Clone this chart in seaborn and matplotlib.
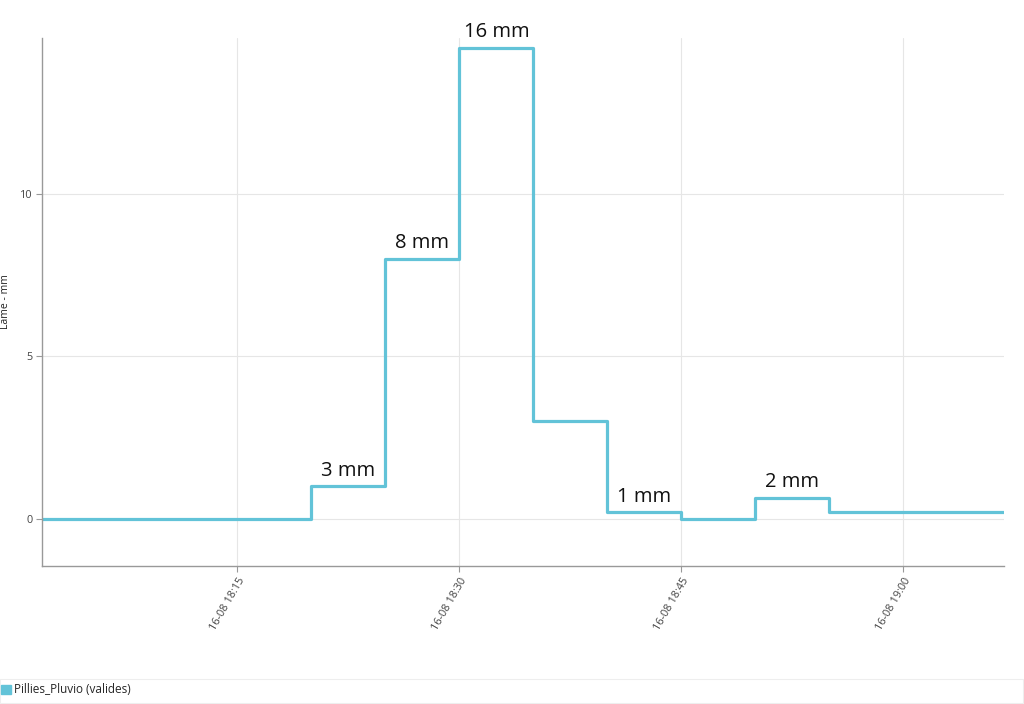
import matplotlib
matplotlib.use("Agg")
import matplotlib.pyplot as plt
import matplotlib.dates as mdates
from matplotlib.patches import Patch, Rectangle
import seaborn as sns
import pandas as pd

# ---- data ----
times = ["18:00", "18:05", "18:10", "18:15", "18:20", "18:25", "18:30", "18:35",
         "18:40", "18:45", "18:50", "18:55", "19:00", "19:05", "19:10"]
values = [0, 0, 0, 0, 1.0, 8.0, 14.5, 3.0, 0.2, 0.0, 0.65, 0.2, 0.2, 0.2, 0.2]
label_times = ["18:20", "18:25", "18:30", "18:40", "18:50"]
label_texts = ["3 mm", "8 mm", "16 mm", "1 mm", "2 mm"]
series_name = "Pillies_Pluvio (valides)"
date = "2023-08-16 "
tick_times = ["18:15", "18:30", "18:45", "19:00"]

df = pd.DataFrame({"t": pd.to_datetime([date + t for t in times]), "v": values})
color = "#62C3D8"

sns.set_theme(style="white")
plt.rcParams['font.family'] = ['Open Sans', 'DejaVu Sans']

fig = plt.figure(figsize=(10.24, 7.04), dpi=100)
ax = fig.add_axes([0.041, 0.196, 0.9395, 0.750])

sns.lineplot(data=df, x="t", y="v", ax=ax, color=color, linewidth=2.3,
             drawstyle="steps-post", legend=False)

x0 = pd.Timestamp(date + "18:01:48")
x1 = pd.Timestamp(date + "19:06:48")
ax.set_xlim(x0, x1)
ax.set_ylim(-1.45, 14.8)

ticks = pd.to_datetime([date + t for t in tick_times])
ax.set_xticks(ticks)
ax.set_xticklabels(["16-08 " + t for t in tick_times], rotation=60, ha="right",
                   rotation_mode="anchor", fontsize=7.8, color="#444444")
ax.set_yticks([0, 5, 10])
ax.set_yticklabels(["0", "5", "10"], fontsize=7.8, color="#444444")
ax.tick_params(axis="both", length=4, width=0.8, color="#999999", direction="out",
               bottom=True, left=True, pad=3)
ax.grid(True, color="#e6e6e6", linewidth=0.8)
ax.set_axisbelow(True)
for s in ["top", "right"]:
    ax.spines[s].set_visible(False)
for s in ["left", "bottom"]:
    ax.spines[s].set_color("#999999")
    ax.spines[s].set_linewidth(1.0)
ax.set_xlabel("")
ax.set_ylabel("Lame - mm", fontsize=7.5, color="#222222", labelpad=6)

vals = dict(zip(times, values))
for lt, txt in zip(label_times, label_texts):
    t0 = pd.Timestamp(date + lt)
    tm = t0 + pd.Timedelta(minutes=2.5)
    ax.annotate(txt, (tm, vals[lt]), xytext=(0, 4), textcoords="offset points",
                ha="center", va="bottom", fontsize=14.5, color="#111111")

# legend strip
fig.patches.append(Rectangle((0.0, 0.002), 0.999, 0.033, transform=fig.transFigure,
                             facecolor="white", edgecolor="#eeeeee", linewidth=0.8))
fig.legend(handles=[Patch(facecolor=color, edgecolor=color, label=series_name)],
           loc="lower left", bbox_to_anchor=(-0.009, -0.004), frameon=False,
           fontsize=8.5, handlelength=0.8, handleheight=0.8, handletextpad=0.3)

fig.savefig("out.png", dpi=100, facecolor="white")
